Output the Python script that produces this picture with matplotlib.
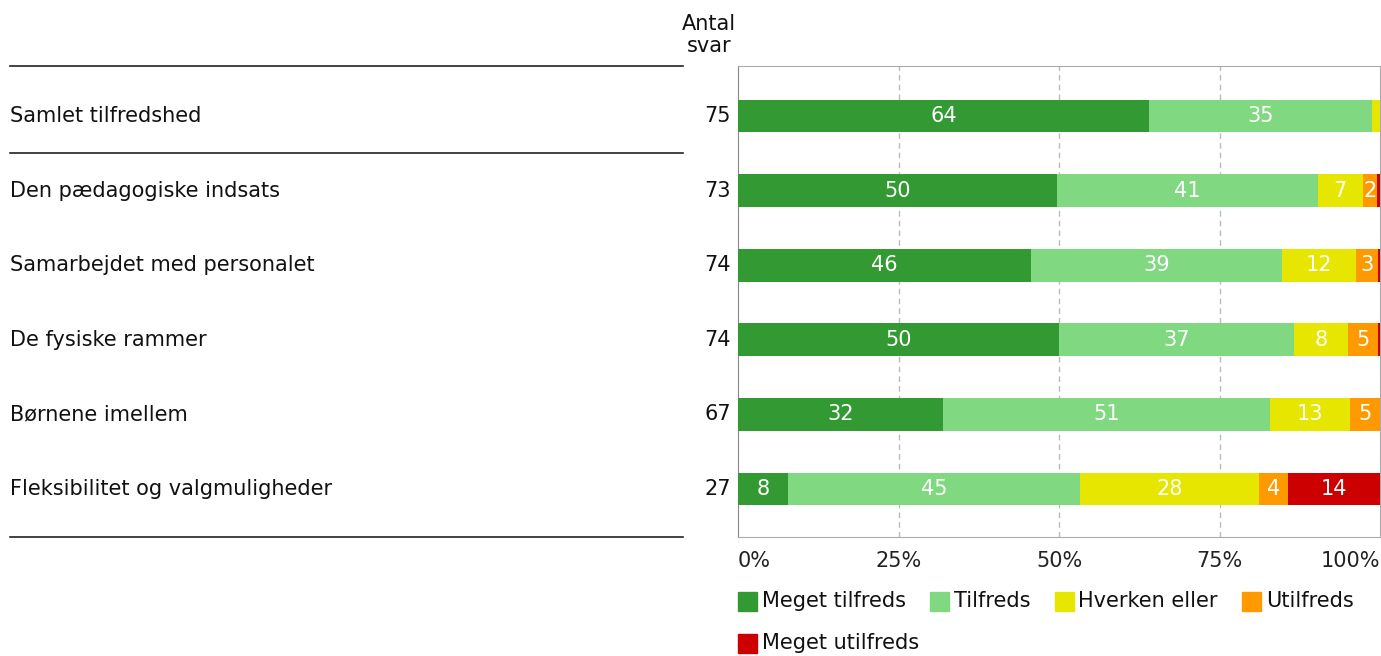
import matplotlib
matplotlib.use("Agg")
import matplotlib.pyplot as plt
from matplotlib.transforms import blended_transform_factory
from matplotlib.lines import Line2D
from matplotlib.patches import Rectangle

categories = ["Samlet tilfredshed", "Den pædagogiske indsats", "Samarbejdet med personalet",
              "De fysiske rammer", "Børnene imellem", "Fleksibilitet og valgmuligheder"]
counts = [75, 73, 74, 74, 67, 27]
series_names = ["Meget tilfreds", "Tilfreds", "Hverken eller", "Utilfreds", "Meget utilfreds"]
meget_tilfreds = [64.0, 49.7, 45.6, 50.0, 31.9, 7.8]
tilfreds = [34.7, 40.6, 39.1, 36.6, 50.9, 45.4]
hverken = [1.3, 7.0, 11.6, 8.4, 12.6, 28.0]
utilfreds = [0.0, 2.2, 3.4, 4.7, 4.6, 4.4]
meget_utilfreds = [0.0, 0.5, 0.3, 0.3, 0.0, 14.4]
tick_vals = [0, 25, 50, 75, 100]
tick_labels = ["0%", "25%", "50%", "75%", "100%"]
colors = ["#339933", "#80d980", "#e6e600", "#ff9900", "#cc0000"]

FS = 15
W, H = 1381, 656
fig = plt.figure(figsize=(W / 100, H / 100), dpi=100)
ax = fig.add_axes([738 / W, 1 - 537 / H, 642 / W, (537 - 66) / H])

series = [meget_tilfreds, tilfreds, hverken, utilfreds, meget_utilfreds]
ypos = list(range(len(categories)))
left = [0.0] * len(categories)
for vals, col in zip(series, colors):
    ax.barh(ypos, vals, left=left, height=0.44, color=col, zorder=3)
    for i, v in enumerate(vals):
        if v >= 2:
            ax.text(left[i] + v / 2, i, f"{int(round(v))}", ha="center", va="center",
                    color="white", fontsize=FS, zorder=4)
    left = [l + v for l, v in zip(left, vals)]

ax.set_xlim(0, 100)
ax.set_ylim(5 + 48 / 74.6, -50 / 74.6)
ax.set_yticks([])
ax.set_xticks(tick_vals)
ax.set_xticklabels(tick_labels, fontsize=FS, color="#222222")
for lbl, ha in zip(ax.get_xticklabels(), ["left", "center", "center", "center", "right"]):
    lbl.set_ha(ha)
ax.tick_params(axis="x", length=0, pad=10)
for x in [25, 50, 75]:
    ax.axvline(x, color="#bbbbbb", linestyle=(0, (4, 3)), linewidth=1, zorder=1)
for s in ["top", "bottom", "right"]:
    ax.spines[s].set_color("#aaaaaa")
ax.spines["left"].set_color("#888888")

# category labels and counts
tr_fig_data = blended_transform_factory(fig.transFigure, ax.transData)
for i, (c, n) in enumerate(zip(categories, counts)):
    fig.text(10 / W, i, c, transform=tr_fig_data, ha="left", va="center", fontsize=FS, color="#111111")
    fig.text(731 / W, i, str(n), transform=tr_fig_data, ha="right", va="center", fontsize=FS, color="#111111")

fig.text(709 / W, 1 - 35 / H, "Antal\nsvar", ha="center", va="center", fontsize=FS,
         color="#111111", linespacing=1.15)

tr_fig_axes = blended_transform_factory(fig.transFigure, ax.transAxes)
for yy, tr in [(1, tr_fig_axes), (0, tr_fig_axes), (0.5, tr_fig_data)]:
    fig.add_artist(Line2D([10 / W, 683 / W], [yy, yy], transform=tr, color="#222222", linewidth=1.2))

# legend (manual layout)
fig.canvas.draw()
renderer = fig.canvas.get_renderer()
sq = 19
x = 738
rows_y = [601, 643]
row = 0
for k, (name, col) in enumerate(zip(series_names, colors)):
    if k == 4:
        row = 1
        x = 738
    yc = rows_y[row]
    fig.add_artist(Rectangle((x / W, 1 - (yc + sq / 2) / H), sq / W, sq / H,
                             transform=fig.transFigure, color=col))
    t = fig.text((x + sq + 5) / W, 1 - yc / H, name, ha="left", va="center", fontsize=FS, color="#111111")
    bb = t.get_window_extent(renderer)
    x = x + sq + 5 + bb.width + 24

fig.savefig("out.png", dpi=100)
